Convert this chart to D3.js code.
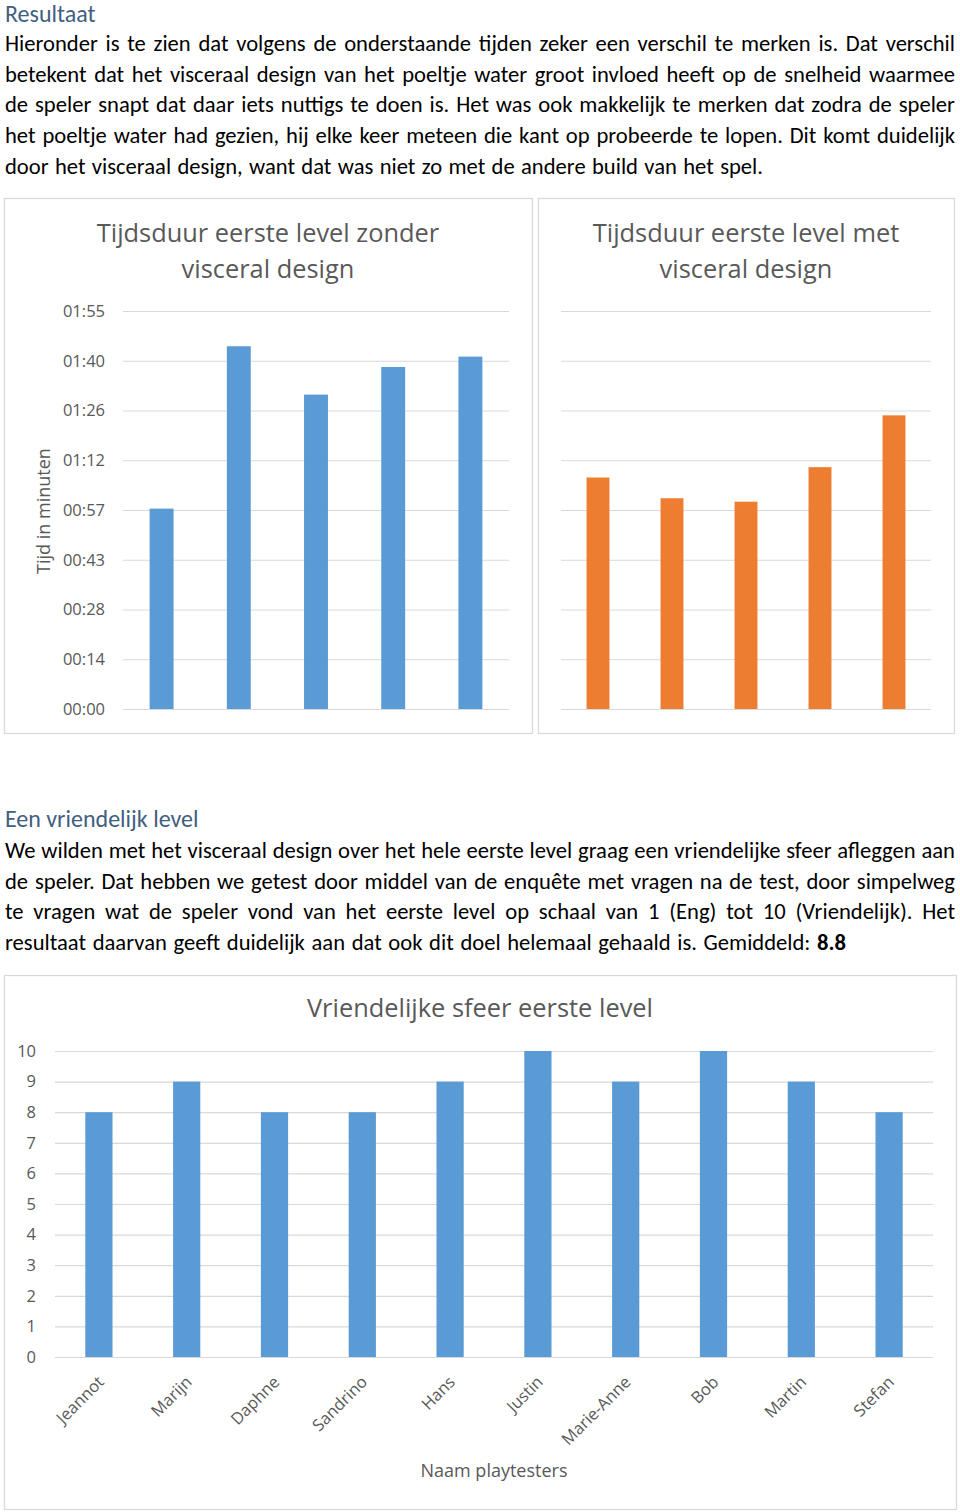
<!DOCTYPE html>
<html>
<head>
<meta charset="utf-8">
<script src="https://cdn.jsdelivr.net/npm/d3@7"></script>
<style>
  html, body { margin: 0; padding: 0; background: #ffffff; }
  svg { display: block; }
</style>
</head>
<body>
<script>
// ---------- DATA ----------
const timeTesters = ["1", "2", "3", "4", "5"];
const secondsWithout = [58, 105, 91, 99, 102];   // zonder visceral design (seconds)
const secondsWith = [67, 61, 60, 70, 85];         // met visceral design (seconds)
const timeTickSeconds = [0, 14.4, 28.8, 43.2, 57.6, 72, 86.4, 100.8, 115.2];

const playtesters = ["Jeannot", "Marijn", "Daphne", "Sandrino", "Hans", "Justin", "Marie-Anne", "Bob", "Martin", "Stefan"];
const friendliness = [8, 9, 8, 8, 9, 10, 9, 10, 9, 8];
const scoreTicks = [0, 1, 2, 3, 4, 5, 6, 7, 8, 9, 10];

const heading1 = "Resultaat";
const para1 = [
  "Hieronder is te zien dat volgens de onderstaande tijden zeker een verschil te merken is. Dat verschil",
  "betekent dat het visceraal design van het poeltje water groot invloed heeft op de snelheid waarmee",
  "de speler snapt dat daar iets nuttigs te doen is. Het was ook makkelijk te merken dat zodra de speler",
  "het poeltje water had gezien, hij elke keer meteen die kant op probeerde te lopen. Dit komt duidelijk",
  "door het visceraal design, want dat was niet zo met de andere build van het spel."
];
const heading2 = "Een vriendelijk level";
const para2 = [
  "We wilden met het visceraal design over het hele eerste level graag een vriendelijke sfeer afleggen aan",
  "de speler. Dat hebben we getest door middel van de enquête met vragen na de test, door simpelweg",
  "te vragen wat de speler vond van het eerste level op schaal van 1 (Eng) tot 10 (Vriendelijk). Het",
  "resultaat daarvan geeft duidelijk aan dat ook dit doel helemaal gehaald is. Gemiddeld: "
];
const para2Bold = "8.8";

// ---------- SETUP ----------
const svg = d3.select("body").append("svg").attr("width", 960).attr("height", 1512);
const bodyFont = "Carlito, Lato, 'Liberation Sans', sans-serif";
const chartFont = "'Open Sans', 'Noto Sans', sans-serif";
const gridColor = "#d9d9d9";
const labelColor = "#595959";
const headingColor = "#41607f";

function heading(text, y) {
  svg.append("text").attr("x", 5).attr("y", y)
    .attr("font-family", bodyFont).attr("font-weight", 300)
    .attr("font-size", 24).attr("fill", headingColor).text(text);
}

function paragraph(lines, y0, lh, lastRight, boldTail) {
  lines.forEach((line, i) => {
    const isLast = i === lines.length - 1;
    const t = svg.append("text").attr("x", 5).attr("y", y0 + i * lh)
      .attr("font-family", bodyFont).attr("font-size", 22.6).attr("fill", "#000")
      .attr("xml:space", "preserve");
    t.append("tspan").text(line);
    if (isLast && boldTail) t.append("tspan").attr("font-weight", 700).text(boldTail);
    const target = (isLast ? lastRight : 955) - 5;
    const natural = t.node().getComputedTextLength();
    const spaces = line.trim().split(" ").length - 1 + ((isLast && boldTail) ? 1 : 0);
    if (spaces > 0) t.attr("word-spacing", (target - natural) / spaces);
  });
}

heading(heading1, 22);
paragraph(para1, 51, 30.7, 763, null);
heading(heading2, 827);
paragraph(para2, 858, 30.7, 846, para2Bold);

// ---------- CHART HELPER ----------
function barChart(o) {
  const g = svg.append("g");
  g.append("rect").attr("x", o.frame[0] + 0.5).attr("y", o.frame[1] + 0.5)
    .attr("width", o.frame[2] - o.frame[0]).attr("height", o.frame[3] - o.frame[1])
    .attr("fill", "#fff").attr("stroke", gridColor).attr("stroke-width", 1.3);

  const x = d3.scaleBand().domain(o.cats).range([o.plot[0], o.plot[1]])
    .paddingInner(0.69).paddingOuter(0.345);
  const y = d3.scaleLinear().domain([0, o.yMax]).range([o.plot[3], o.plot[2]]);

  const yAxis = d3.axisLeft(y).tickValues(o.ticks)
    .tickSize(-(o.plot[1] - o.plot[0])).tickPadding(o.tickPad)
    .tickFormat(o.showY ? o.fmt : () => "");
  const ga = g.append("g").attr("transform", `translate(${o.plot[0]},0)`).call(yAxis);
  ga.select(".domain").remove();
  ga.selectAll(".tick line").attr("stroke", gridColor).attr("stroke-width", 1.2);
  ga.selectAll(".tick text").attr("fill", labelColor)
    .attr("font-family", chartFont).attr("font-size", 16.5);

  g.selectAll("rect.bar").data(o.vals).join("rect").attr("class", "bar")
    .attr("x", (d, i) => x(o.cats[i])).attr("width", x.bandwidth())
    .attr("y", d => y(d)).attr("height", d => y(0) - y(d))
    .attr("fill", o.color);

  const cx = (o.frame[0] + o.frame[2]) / 2;
  o.title.forEach((t, i) => {
    g.append("text").attr("x", cx).attr("y", o.titleY + i * 36)
      .attr("text-anchor", "middle").attr("font-family", chartFont)
      .attr("font-size", o.titleSize).attr("fill", labelColor).text(t);
  });
  return { g, x, y };
}

const fmtTime = s => {
  const t = Math.floor(s + 1e-9);
  return d3.format("02d")(Math.floor(t / 60)) + ":" + d3.format("02d")(t % 60);
};

// Chart 1
const c1 = barChart({
  frame: [4, 198, 532, 733], plot: [123, 509, 311, 709],
  cats: timeTesters, vals: secondsWithout, color: "#5b9bd5",
  yMax: 115.2, ticks: timeTickSeconds, fmt: fmtTime, showY: true, tickPad: 18,
  title: ["Tijdsduur eerste level zonder", "visceral design"], titleY: 242, titleSize: 25.4
});
c1.g.append("text").attr("transform", "translate(50,511) rotate(-90)")
  .attr("text-anchor", "middle").attr("font-family", chartFont).attr("font-size", 18)
  .attr("fill", labelColor).text("Tijd in minuten");

// Chart 2
barChart({
  frame: [538, 198, 954, 733], plot: [561, 931, 311, 709],
  cats: timeTesters, vals: secondsWith, color: "#ed7d31",
  yMax: 115.2, ticks: timeTickSeconds, fmt: fmtTime, showY: false, tickPad: 18,
  title: ["Tijdsduur eerste level met", "visceral design"], titleY: 242, titleSize: 25.4
});

// Chart 3
const c3 = barChart({
  frame: [4, 975, 956, 1509], plot: [55, 933, 1051, 1357],
  cats: playtesters, vals: friendliness, color: "#5b9bd5",
  yMax: 10, ticks: scoreTicks, fmt: d3.format("d"), showY: true, tickPad: 19,
  title: ["Vriendelijke sfeer eerste level"], titleY: 1017, titleSize: 25.4
});
const xAxis = d3.axisBottom(c3.x).tickSize(0).tickPadding(0);
const gx = c3.g.append("g").attr("transform", "translate(0,1357)").call(xAxis);
gx.select(".domain").remove();
gx.selectAll(".tick text")
  .attr("fill", labelColor).attr("font-family", chartFont).attr("font-size", 16.5)
  .attr("text-anchor", "end").attr("dy", "0.35em")
  .attr("transform", "translate(2,22) rotate(-45)");
c3.g.append("text").attr("x", (55 + 933) / 2).attr("y", 1477)
  .attr("text-anchor", "middle").attr("font-family", chartFont).attr("font-size", 18)
  .attr("fill", labelColor).text("Naam playtesters");
</script>
</body>
</html>
